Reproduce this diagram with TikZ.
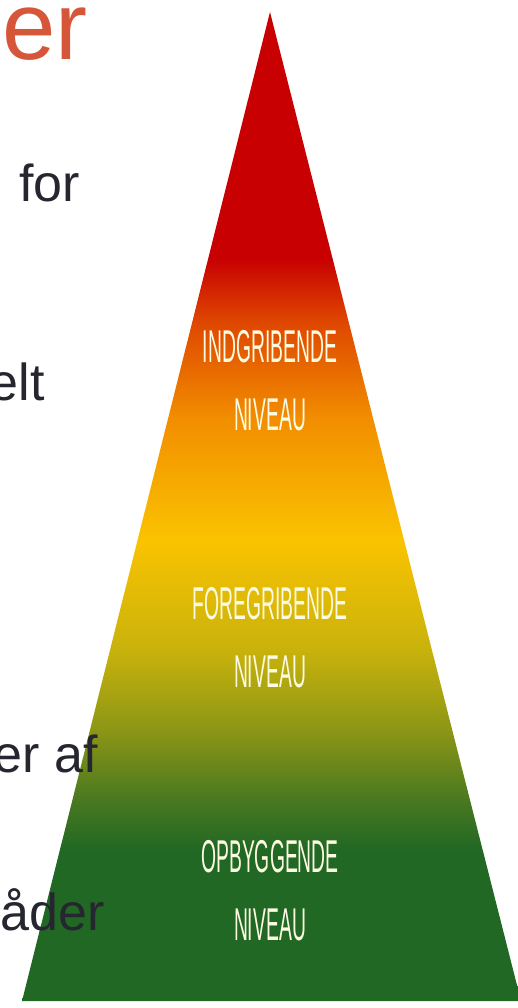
\documentclass[tikz,border=0pt]{standalone}
\usepackage{fontspec}
\setmainfont{Liberation Sans}
\usepackage{tikz}
\usetikzlibrary{positioning}
\definecolor{titleorange}{RGB}{214, 86, 58}
\definecolor{bodygray}{RGB}{38, 38, 48}
\definecolor{levelwhite}{RGB}{252, 250, 225}
\definecolor{pyrred}{RGB}{200, 0, 2}
\definecolor{pyrorangered}{RGB}{222, 70, 0}
\definecolor{pyrorange}{RGB}{242, 142, 0}
\definecolor{pyryellow}{RGB}{250, 195, 0}
\definecolor{pyrmustard}{RGB}{200, 178, 12}
\definecolor{pyrolive}{RGB}{140, 150, 22}
\definecolor{pyrleaf}{RGB}{72, 120, 32}
\definecolor{pyrgreen}{RGB}{32, 104, 36}
\pgfdeclareverticalshading{pyramidfade}{100bp}{
  color(0bp)=(pyrgreen); color(25bp)=(pyrgreen); color(32.6bp)=(pyrgreen);
  color(35.1bp)=(pyrleaf); color(38.7bp)=(pyrolive); color(42.7bp)=(pyrmustard);
  color(48.3bp)=(pyryellow); color(54.4bp)=(pyrorange); color(59.4bp)=(pyrorangered);
  color(62.5bp)=(pyrred); color(75bp)=(pyrred); color(100bp)=(pyrred)}
\tikzset{
  leveltext/.style={text=levelwhite, align=center, xscale=0.42, transform shape,
              font=\fontsize{46}{68}\selectfont, inner sep=0pt},
  bodytext/.style={text=bodygray, anchor=base east, inner sep=0pt,
              font=\fontsize{52}{60}\selectfont},
  titletext/.style={text=titleorange, anchor=base east, inner sep=0pt,
              font=\fontsize{96}{110}\selectfont},
}

\begin{document}
\begin{tikzpicture}[x=1pt, y=-1pt]
  \clip (0,0) rectangle (518,1008);

  % pyramid
  \coordinate (apex) at (270,12);
  \coordinate (baseleft) at (22,1001);
  \coordinate (baseright) at (521,1001);
  \path[shading=pyramidfade] (apex) -- (baseleft) -- (baseright) -- cycle;

  \node[leveltext] (indgrib) at (270,381) {INDGRIBENDE\\NIVEAU};
  \node[leveltext] (foregrib) at (270,638) {FOREGRIBENDE\\NIVEAU};
  \node[leveltext] (opbyg) at (270,891) {OPBYGGENDE\\NIVEAU};

  % cut-off slide text on the left
  \node[titletext] (title) at (88,60) {ner};
  \node[bodytext] (line1) at (80,202) {for};
  \node[bodytext] (line2) at (45,400) {elt};
  \node[bodytext] (line3) at (98,772) {er af};
  \node[bodytext] (line4) at (105,930) {åder};
\end{tikzpicture}
\end{document}
